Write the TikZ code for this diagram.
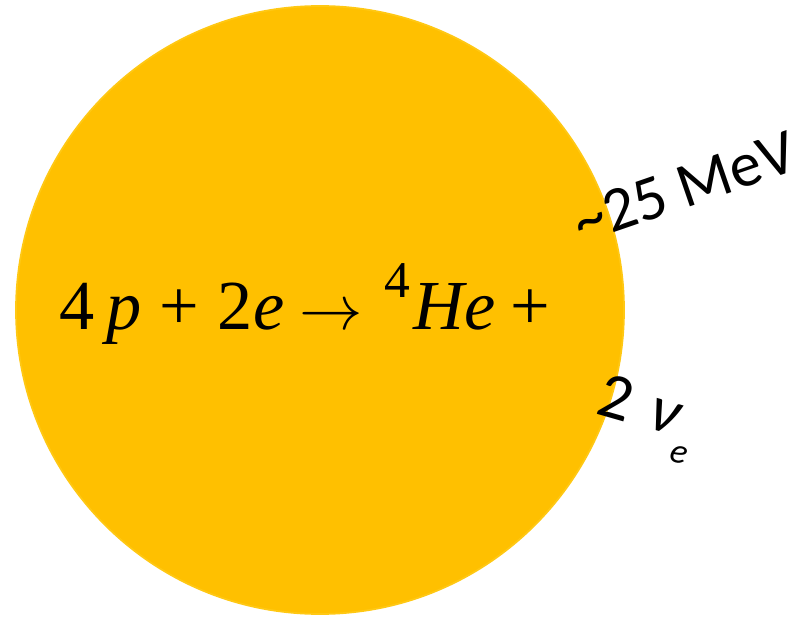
\documentclass[tikz,border=0pt]{standalone}
\usepackage{fontspec}
\setmainfont{Liberation Serif}
\newfontfamily\labelfont{Carlito}
\usepackage{tikz}
\usetikzlibrary{positioning}
\definecolor{sungold}{RGB}{255, 192, 0}
\definecolor{sunrim}{RGB}{255, 200, 20}

\begin{document}
\begin{tikzpicture}[x=0.03cm, y=-0.03cm,
  every node/.style={inner sep=0pt, text=black},
  eqn/.style={font=\fontsize{60}{62}\selectfont},
  mev/.style={font=\labelfont\fontsize{54}{56}\selectfont},
  nue/.style={font=\labelfont\fontsize{56}{58}\selectfont}]
  \useasboundingbox (0,0) rectangle (803,618);

  % ---------- the sun ----------
  \fill[sungold, draw=sunrim, line width=1.5pt] (320,310) circle (304);

  % ---------- reaction ----------
  \node[eqn, anchor=base] (reaction) at (305,329)
    {4\hspace{0.17em}\textit{p}\hspace{0.26em}+\hspace{0.26em}2\textit{e}\hspace{0.22em}\resizebox{1.9cm}{!}{$\rightarrow$}\hspace{0.3em}\raisebox{0.45em}{\fontsize{44}{44}\selectfont 4}\hspace{0.05em}\textit{He}\hspace{0.22em}+};

  % ---------- outputs ----------
  \node[mev, anchor=base west, rotate=19] (energy) at (581,244) {\char"007E 25 MeV};
  \node[nue, anchor=base west, rotate=-16] (neutrinos) at (594,413)
    {2\hspace{0.3em}\textit{ν}\raisebox{-0.38em}{\fontsize{30}{32}\selectfont\itshape e}};
\end{tikzpicture}
\end{document}
